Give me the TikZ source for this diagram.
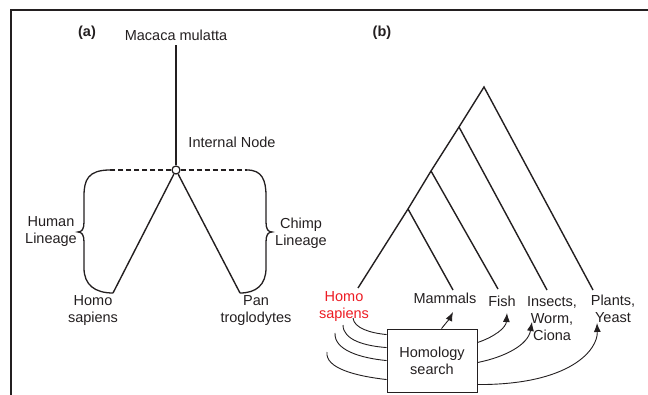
\documentclass[tikz,border=0pt]{standalone}
\usepackage{fontspec}
\setmainfont{Liberation Sans}
\usetikzlibrary{arrows.meta,calc}
\definecolor{hsred}{RGB}{237,28,36}
\definecolor{ink}{RGB}{35,31,32}

\begin{document}
\begin{tikzpicture}[x=1pt, y=-1pt,
  txt/.style={font=\fontsize{14.5}{17}\selectfont, text=ink, align=center, inner sep=0pt, anchor=base},
  panel/.style={txt, font=\fontsize{14.5}{17}\selectfont\bfseries},
  branch/.style={ink, line width=1.4pt},
  lineage/.style={ink, line width=1.3pt},
  search/.style={ink, line width=0.9pt},
  hit/.style={search, -{Latex[length=9pt,width=7pt]}}]
  \useasboundingbox (0,0) rectangle (648,395);
  \draw[ink, line width=1.2pt] (11,395) -- (11,10) -- (648,10);

  % (a) primate tree
  \node[panel] (pa) at (87,37) {(a)};
  \node[txt] (mac) at (176,41) {Macaca mulatta};
  \node[txt] (intl) at (232,148) {Internal Node};
  \node[circle, draw=ink, fill=white, line width=1.2pt, inner sep=0pt, minimum size=8pt] (int) at (176,170) {};
  \node[txt] (hsa) at (93,323) {Homo\\sapiens};
  \node[txt] (ptr) at (256,323) {Pan\\troglodytes};
  \node[txt] (hum) at (51,244) {Human\\Lineage};
  \node[txt] (chi) at (301,246) {Chimp\\Lineage};
  \coordinate (hleaf) at (113,293);
  \coordinate (cleaf) at (240,293);
  \coordinate (hdash) at (110,170);
  \coordinate (cdash) at (247,170);

  \draw[branch] ([yshift=-4pt]mac.south) -- (int);
  \draw[branch] (int) -- (hleaf);
  \draw[branch] (int) -- (cleaf);
  \draw[lineage, dash pattern=on 5pt off 3pt] (int) -- (hdash);
  \draw[lineage, dash pattern=on 5pt off 3pt] (int) -- (cdash);
  \draw[lineage] (hdash) .. controls (88,170) and (84,180) .. (84,196) -- (84,222)
    .. controls (84,229) and (82,232) .. (78,232) .. controls (82,232) and (84,235) .. (84,242)
    -- (84,268) .. controls (84,285) and (95,293) .. (hleaf);
  \draw[lineage] (cdash) .. controls (262,170) and (266,180) .. (266,196) -- (266,222)
    .. controls (266,229) and (268,232) .. (272,232) .. controls (268,232) and (266,235) .. (266,242)
    -- (266,268) .. controls (266,285) and (256,293) .. (cleaf);

  % (b) homology search
  \node[panel] (pb) at (382,37) {(b)};
  \coordinate (root) at (484,87);
  \coordinate (n1) at (459,127);
  \coordinate (n2) at (431,171);
  \coordinate (n3) at (408,209);
  \coordinate (lhs) at (358,288);
  \coordinate (lmam) at (453,290);
  \coordinate (lfish) at (498,289);
  \coordinate (lins) at (547,290);
  \coordinate (lpla) at (593,290);
  \draw[branch] (lhs) -- (n3) -- (n2) -- (n1) -- (root) -- (lpla);
  \draw[branch] (n1) -- (lins);
  \draw[branch] (n2) -- (lfish);
  \draw[branch] (n3) -- (lmam);

  \node[txt, text=hsred] (hsb) at (344,319) {Homo\\sapiens};
  \node[txt] (mam) at (445,304) {Mammals};
  \node[txt] (fish) at (502,307) {Fish};
  \node[txt] (ins) at (552,341) {Insects,\\Worm,\\Ciona};
  \node[txt] (pla) at (613,323) {Plants,\\Yeast};
  \node[draw=ink, line width=0.9pt, minimum width=90pt, minimum height=63pt, inner sep=0pt,
    align=center, text=ink, font=\fontsize{14.5}{17}\selectfont] (hom) at (432,360.5) {Homology\\search};

  \coordinate (s1) at (353,318);
  \coordinate (s2) at (343,325);
  \coordinate (s3) at (335,333);
  \coordinate (s4) at (327,352);
  \coordinate (tmam) at (453,312);
  \coordinate (tfish) at (507,313);
  \coordinate (tins) at (532,322);
  \coordinate (tpla) at (597,323);

  \draw[search] (s1) .. controls (354,328) and (370,333) .. ($(hom.north west)+(0,6)$);
  \draw[search] (s2) .. controls (343,340) and (365,346) .. ($(hom.north west)+(0,19)$);
  \draw[search] (s3) .. controls (334,350) and (360,358) .. ($(hom.north west)+(0,32)$);
  \draw[search] (s4) .. controls (325,368) and (355,376) .. ($(hom.north west)+(0,51)$);
  \draw[hit] ($(hom.north west)+(55,0)$) .. controls (446,323) and (450,318) .. (tmam);
  \draw[hit] ($(hom.north east)+(0,14)$) .. controls (494,337) and (506,328) .. (tfish);
  \draw[hit] ($(hom.north east)+(0,34)$) .. controls (505,357) and (528,345) .. (tins);
  \draw[hit] ($(hom.north east)+(0,56)$) .. controls (570,385) and (598,350) .. (tpla);
\end{tikzpicture}
\end{document}
